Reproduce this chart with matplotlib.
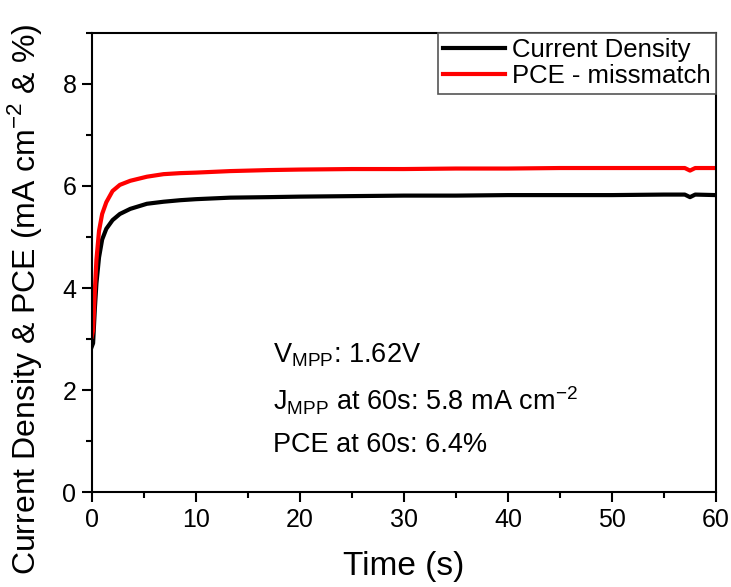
import matplotlib.pyplot as plt
from matplotlib.ticker import MultipleLocator

plt.rcParams['font.family'] = ['Liberation Sans', 'DejaVu Sans']

# values
time_s = [0.0, 0.13, 0.3, 0.45, 0.7, 1.0, 1.4, 2.0, 2.7, 3.7, 5.3, 6.9, 8.5, 10.0,
          13.3, 17.0, 20.0, 25.0, 30.0, 35.0, 40.0, 45.0, 50.0, 55.0, 57.0, 57.5,
          58.0, 60.0]
current_density = [2.85, 2.92, 3.6, 4.09, 4.6, 4.95, 5.16, 5.33, 5.45, 5.55, 5.65, 5.69,
                   5.72, 5.74, 5.77, 5.78, 5.79, 5.80, 5.81, 5.81, 5.82, 5.82, 5.82,
                   5.83, 5.83, 5.78, 5.83, 5.82]
pce = [3.05, 3.17, 3.95, 4.55, 5.12, 5.45, 5.68, 5.9, 6.02, 6.1, 6.18, 6.23,
       6.25, 6.26, 6.29, 6.31, 6.32, 6.33, 6.33, 6.34, 6.34, 6.35, 6.35,
       6.35, 6.35, 6.30, 6.35, 6.35]

fig = plt.figure(figsize=(7.31, 5.87), dpi=100)
ax = fig.add_axes([0.1255, 0.1613, 0.854, 0.783])

ax.plot(time_s, current_density, color='black', lw=3, label='Current Density')
ax.plot(time_s, pce, color='#ff0000', lw=3, label='PCE - missmatch')

ax.set_xlim(0, 60)
ax.set_ylim(0, 9)
ax.xaxis.set_major_locator(MultipleLocator(10))
ax.xaxis.set_minor_locator(MultipleLocator(5))
ax.yaxis.set_major_locator(MultipleLocator(2))
ax.yaxis.set_minor_locator(MultipleLocator(1))
ax.tick_params(which='major', direction='out', length=7, width=1.5, labelsize=18,
               top=False, right=False, pad=4)
ax.tick_params(which='minor', direction='out', length=4, width=1.5,
               top=False, right=False)
for s in ax.spines.values():
    s.set_linewidth(1.5)

ax.set_xlabel('Time (s)', fontsize=24, labelpad=14)
ax.set_ylabel('Current Density & PCE (mA cm$^{\\mathregular{-2}}$ & %)', fontsize=23)
ax.yaxis.set_label_coords(-0.076, 0.42)

ann_x = 0.291
ax.text(ann_x, 0.2835, 'V$_{\\mathregular{MPP}}$: 1.62V', transform=ax.transAxes,
        fontsize=19.5, va='baseline')
ax.text(ann_x, 0.179, 'J$_{\\mathregular{MPP}}$ at 60s: 5.8 mA cm$^{\\mathregular{-2}}$',
        transform=ax.transAxes, fontsize=19.5, va='baseline')
ax.text(ann_x, 0.0877, 'PCE at 60s: 6.4%', transform=ax.transAxes, fontsize=19.5,
        va='baseline')

leg = ax.legend(loc='upper right', fontsize=18.5, frameon=True, fancybox=False,
                borderaxespad=0, handlelength=2.4, handletextpad=0.3,
                labelspacing=0.1, borderpad=0.2)
leg.get_frame().set_edgecolor('#555555')
leg.get_frame().set_linewidth(1.2)
leg.get_frame().set_alpha(1)

fig.savefig('out.png', dpi=100)
